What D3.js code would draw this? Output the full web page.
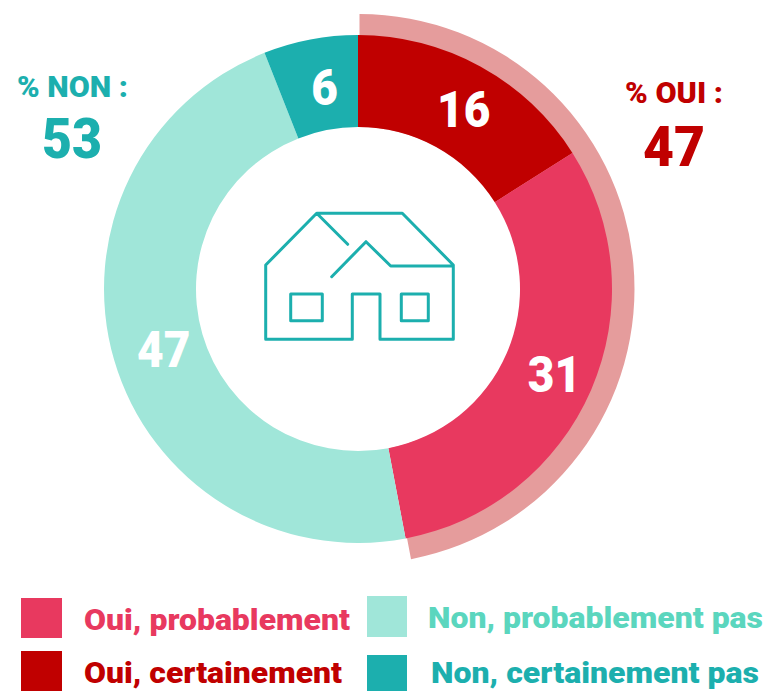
<!DOCTYPE html>
<html><head><meta charset="utf-8">
<script src="https://cdn.jsdelivr.net/npm/d3@7/dist/d3.min.js"></script>
<style>html,body{margin:0;padding:0;background:#fff;overflow:hidden}svg{display:block}text{font-family:Roboto,sans-serif;font-weight:900}</style>
</head><body><svg id="c" width="767" height="691"></svg>
<script>
const categories = ["Oui, certainement","Oui, probablement","Non, probablement pas","Non, certainement pas"];
const values = [16,31,47,6];
const fills = ["#C00000","#E8395F","#A0E6D9","#1CAFAE"];
const labelColors = ["#C00000","#E8395F","#5BD6BE","#1CAFAE"];
const totalOui = 47, totalNon = 53;

const svg = d3.select("#c");
const cx = 358, cy = 289, r0 = 162, r1 = 254, r2 = 276;
const g = svg.append("g").attr("transform",`translate(${cx},${cy})`);
const pie = d3.pie().sort(null).value(d=>d)(values);
const arc = d3.arc().innerRadius(r0).outerRadius(r1);
const pct = d3.scaleLinear().domain([0,100]).range([0,2*Math.PI]);

// Outer band behind the "oui" slices
g.append("path")
 .attr("transform","translate(1.5,0)")
 .attr("d", d3.arc().innerRadius(r0).outerRadius(r2-1).startAngle(pct(0)).endAngle(pct(totalOui))())
 .attr("fill","#E59C9C");

g.selectAll("path.s").data(pie).join("path").attr("class","s")
 .attr("d",arc).attr("fill",(d,i)=>fills[i]);

g.selectAll("text.v").data(pie).join("text").attr("class","v")
 .attr("transform",d=>{const c=arc.centroid(d);return `translate(${c[0]+5.5},${c[1]+3}) scale(0.92,1)`;})
 .attr("text-anchor","middle").attr("dominant-baseline","central")
 .attr("font-size",50).attr("fill","#fff").text(d=>d.value);

function txt(s,x,y,size,fill,anchor,len){
  const t=svg.append("text").attr("x",x).attr("y",y).attr("font-size",size).attr("fill",fill)
    .attr("text-anchor",anchor||"start").text(s);
  if(len) t.attr("textLength",len).attr("lengthAdjust","spacingAndGlyphs");
  return t;
}
txt("% NON :",72.5,97,30,fills[3],"middle",111);
txt(String(totalNon),72,158,56,fills[3],"middle",60);
txt("% OUI :",674,103,30,fills[0],"middle",98);
txt(String(totalOui),674,166,56,fills[0],"middle",62);

// House icon
const icon = "M265.7 265L316.7 213.3H402.3L453.3 265V339.3H380V294H352.3V339.3H265.7Z"
 + "M316.7 213.3L347.7 244.3M331.7 276.7L366 241.7L390.7 266H453.3"
 + "M290.7 294H322.3V320.7H290.7ZM401.3 294H428.3V320.7H401.3Z";
svg.append("path").attr("d",icon).attr("fill","none").attr("stroke",fills[3])
 .attr("stroke-width",3).attr("stroke-linejoin","round").attr("stroke-linecap","round");

// Legend
const leg = [
 {i:1,x:21,y:598,w:41,h:40,tx:84,ty:630,tl:266},
 {i:0,x:21,y:651,w:41,h:40,tx:84,ty:683,tl:258},
 {i:2,x:367,y:596,w:40,h:41,tx:428,ty:628,tl:335},
 {i:3,x:367,y:655,w:40,h:36,tx:431,ty:683,tl:328}
];
leg.forEach(l=>{
 svg.append("rect").attr("x",l.x).attr("y",l.y).attr("width",l.w).attr("height",l.h).attr("fill",fills[l.i]);
 txt(categories[l.i],l.tx,l.ty,30,labelColors[l.i],"start",l.tl);
});
</script></body></html>
